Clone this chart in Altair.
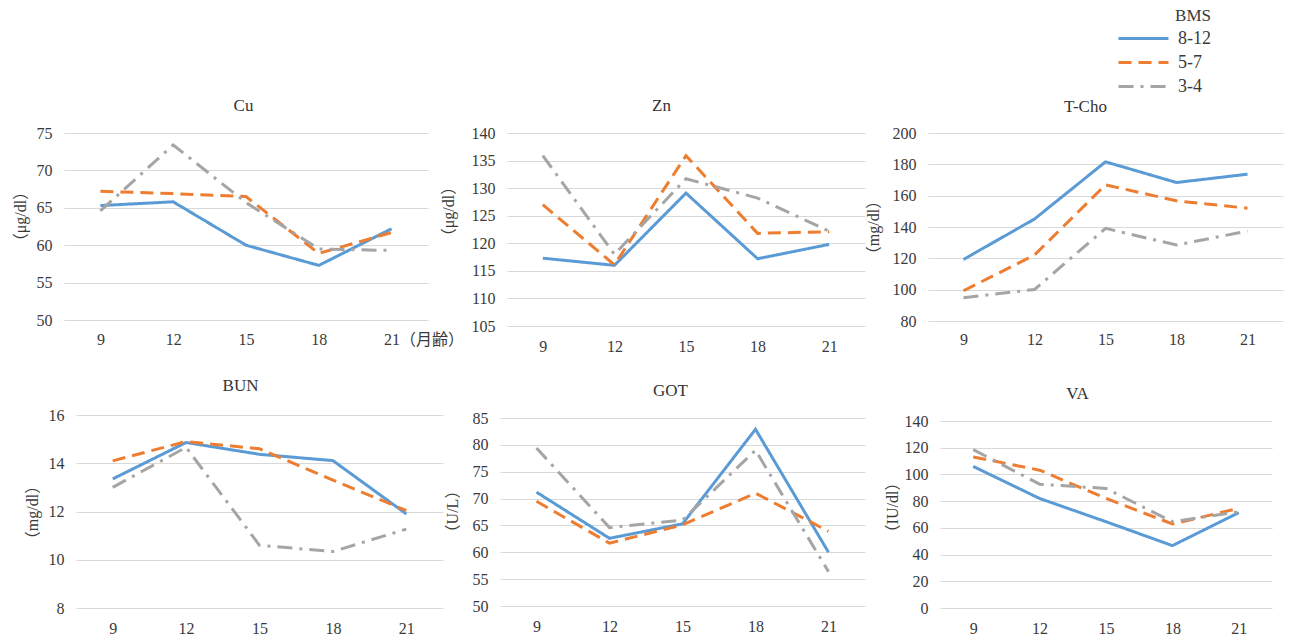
import altair as alt
import pandas as pd

# ---------------- data ----------------
months = [9, 12, 15, 18, 21]
groups = ["8-12", "5-7", "3-4"]
colors = ["#5B9BD5", "#ED7D31", "#A5A5A5"]
dashes = [[1, 0], [13, 7], [15, 7, 3, 7]]

panel_names = ["Cu", "Zn", "T-Cho", "BUN", "GOT", "VA"]
y_titles = ["（μg/dl）", "（μg/dl）", "（mg/dl）", "（mg/dl）", "（U/L）", "（IU/dl）"]

cu_8_12 = [65.3, 65.8, 60.0, 57.3, 62.2]
cu_5_7 = [67.2, 66.9, 66.5, 58.9, 61.7]
cu_3_4 = [64.6, 73.4, 65.7, 59.5, 59.3]

zn_8_12 = [117.3, 116.0, 129.1, 117.2, 119.8]
zn_5_7 = [127.0, 116.1, 135.9, 121.8, 122.1]
zn_3_4 = [135.9, 118.0, 131.7, 128.2, 122.2]

tcho_8_12 = [119.3, 145.1, 181.6, 168.4, 173.7]
tcho_5_7 = [99.3, 122.1, 166.9, 156.7, 152.0]
tcho_3_4 = [94.9, 100.1, 139.1, 128.5, 137.4]

bun_8_12 = [13.35, 14.86, 14.37, 14.11, 11.9]
bun_5_7 = [14.1, 14.9, 14.6, 13.3, 12.04]
bun_3_4 = [13.0, 14.66, 10.6, 10.34, 11.27]

got_8_12 = [71.2, 62.6, 65.3, 82.9, 60.0]
got_5_7 = [69.5, 61.7, 65.1, 71.0, 63.9]
got_3_4 = [79.4, 64.6, 66.0, 79.0, 56.4]

va_8_12 = [106.0, 82.0, 64.6, 46.7, 71.4]
va_5_7 = [113.1, 103.2, 82.1, 62.9, 74.6]
va_3_4 = [118.6, 92.7, 89.5, 64.6, 72.1]

series = [
    [cu_8_12, cu_5_7, cu_3_4],
    [zn_8_12, zn_5_7, zn_3_4],
    [tcho_8_12, tcho_5_7, tcho_3_4],
    [bun_8_12, bun_5_7, bun_3_4],
    [got_8_12, got_5_7, got_3_4],
    [va_8_12, va_5_7, va_3_4],
]

y_ticks = [
    [50, 55, 60, 65, 70, 75],
    [105, 110, 115, 120, 125, 130, 135, 140],
    [80, 100, 120, 140, 160, 180, 200],
    [8, 10, 12, 14, 16],
    [50, 55, 60, 65, 70, 75, 80, 85],
    [0, 20, 40, 60, 80, 100, 120, 140],
]

# ---------------- layout (pixels) ----------------
W, H = 1291, 637
# x0, x1, y_bottom, y_top, title_x, title_y, ytitle_x, ytitle_y, xlabel_pad
geom = [
    (64, 428, 320, 133, 243, 105, 20, 216, 11),
    (507, 865, 326, 133, 661, 105, 448, 211, 12),
    (928, 1283, 321, 133, 1085, 106, 873, 227, 10),
    (76, 443, 608, 415, 240, 385, 32, 512, 12),
    (500, 865, 606, 418, 670, 390, 452, 511, 12),
    (940, 1272, 608, 421, 1077, 393, 892, 507, 12),
]

FONT = "'Liberation Serif', 'Times New Roman', 'Noto Sans CJK JP', serif"
TXT = "#3a3a3a"

color_scale = alt.Scale(domain=groups, range=colors)
dash_scale = alt.Scale(domain=groups, range=dashes)
legend = alt.Legend(
    orient="none", legendX=1132, legendY=8, title="BMS",
    titleAnchor="end", titleFontSize=17, titleFont=FONT, titleFontWeight="normal",
    titleColor=TXT, titlePadding=2,
    labelFontSize=18, labelFont=FONT, labelColor=TXT, labelOffset=23,
    symbolType="M-2.5,0H2.5", symbolSize=400, symbolStrokeWidth=3,
    rowPadding=3,
)

layers = []
for i, name in enumerate(panel_names):
    x0, x1, yb, yt, tx, ty, ytx, yty, lpad = geom[i]
    rows = []
    for g, vals in zip(groups, series[i]):
        for m, v in zip(months, vals):
            rows.append({"month": m, "group": g, "value": v})
    df = pd.DataFrame(rows)
    ticks = y_ticks[i]

    xaxis_kw = dict(
        orient="bottom", offset=yb - H, title=name,
        titleX=tx, titleY=ty - yb, titleBaseline="middle", titleAlign="center",
        titleAngle=0, titleFontSize=17, titleColor="#333333",
        labelPadding=lpad, labelAngle=0, labelFontSize=16, labelOverlap=False,
        domain=False, ticks=False, grid=False,
    )
    if name == "Cu":
        xaxis_kw["labelExpr"] = "datum.value == 21 ? '21（月齢）' : datum.label"
        xaxis_kw["labelAlign"] = {"condition": {"test": "datum.value == 21", "value": "left"}, "value": "center"}
        xaxis_kw["labelOffset"] = {"condition": {"test": "datum.value == 21", "value": -8}, "value": 0}

    yaxis = alt.Axis(
        orient="left", offset=-x0, values=ticks, title=y_titles[i],
        titleX=ytx - x0, titleY=yty, titleAngle=270, titleBaseline="middle",
        titleAlign="center", titleFontSize=16,
        labelPadding=12, labelFontSize=16,
        domain=False, ticks=False, grid=True,
    )

    layer = alt.Chart(df).mark_line(strokeWidth=3).encode(
        x=alt.X("month:O", scale=alt.Scale(type="point", range=[x0, x1], padding=0.5),
                axis=alt.Axis(**xaxis_kw)),
        y=alt.Y("value:Q", scale=alt.Scale(domain=[ticks[0], ticks[-1]], range=[yb, yt],
                                           nice=False, zero=False),
                axis=yaxis),
        color=alt.Color("group:N", scale=color_scale, legend=legend),
        strokeDash=alt.StrokeDash("group:N", scale=dash_scale, legend=legend),
    )
    layers.append(layer)

chart = (
    alt.layer(*layers)
    .resolve_scale(x="independent", y="independent")
    .properties(width=W, height=H, padding=0, autosize=alt.AutoSizeParams(type="none"))
    .configure_view(stroke=None)
    .configure_axis(labelFont=FONT, titleFont=FONT, labelColor=TXT, titleColor=TXT,
                    gridColor="#D9D9D9", gridWidth=1, titleFontWeight="normal")
)

chart.save("out.html", embed_options={"renderer": "svg", "actions": False})
